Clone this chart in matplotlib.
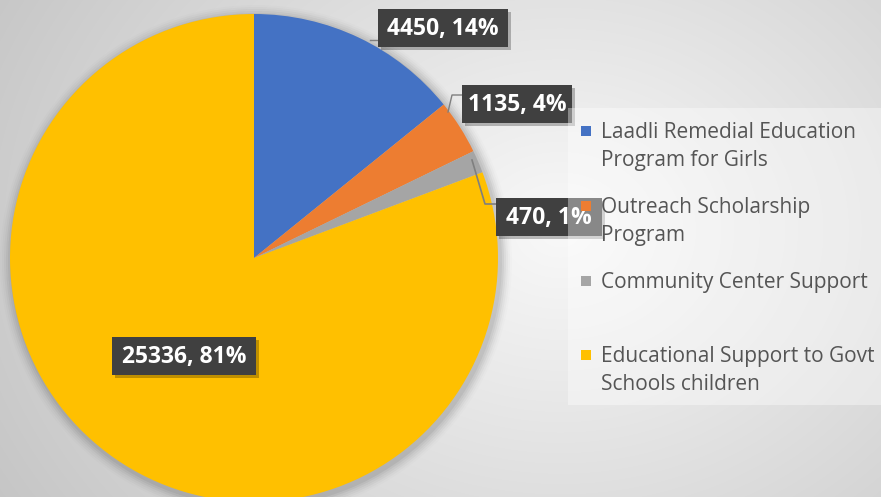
import numpy as np
import matplotlib
matplotlib.use("Agg")
import matplotlib.pyplot as plt
from matplotlib.patches import Rectangle

categories = ["Laadli Remedial Education\nProgram for Girls",
              "Outreach Scholarship\nProgram",
              "Community Center Support",
              "Educational Support to Govt\nSchools children"]
values = [4450, 1135, 470, 25336]
percent_labels = ["14%", "4%", "1%", "81%"]
colors = ["#4472c4", "#ed7d31", "#a5a5a5", "#ffc000"]

W, H = 881, 497
fig = plt.figure(figsize=(W / 100, H / 100), dpi=100)

# background radial gradient
bg = fig.add_axes([0, 0, 1, 1])
yy, xx = np.mgrid[0:H, 0:W]
d = np.sqrt(((xx - 560) / 520.0) ** 2 + ((yy - 230) / 420.0) ** 2)
shade = 0.975 - 0.16 * np.clip(d, 0, 1.3)
bg.imshow(np.dstack([shade] * 3), extent=[0, W, 0, H], origin="upper", aspect="auto")
bg.set_axis_off()

ax = fig.add_axes([0, 0, 1, 1])
ax.set_xlim(0, W)
ax.set_ylim(0, H)
ax.set_axis_off()

cx, cy, r = 254, H - 258, 244
# soft shadow
for i, a in enumerate(np.linspace(0.05, 0.01, 6)):
    ax.add_patch(plt.Circle((cx + 2, cy - 3), r + 2 + i * 2, color="#000000", alpha=a, lw=0, zorder=1))
ax.pie(values, colors=colors, startangle=90, counterclock=False, center=(cx, cy),
       radius=r, wedgeprops=dict(linewidth=0), frame=True)
ax.set_xlim(0, W)
ax.set_ylim(0, H)
ax.set_aspect("auto")
ax.set_axis_off()

font = "Open Sans"
label_pos = [(443, H - 28), (517, H - 104), (549, H - 217), (184, H - 356)]
box_w = [130, 110, 106, 144]
for v, p, (lx, ly), bw in zip(values, percent_labels, label_pos, box_w):
    ax.add_patch(Rectangle((lx - bw / 2 + 3, ly - 19 - 3), bw, 38, color="#000000", alpha=0.25, lw=0, zorder=4))
    ax.add_patch(Rectangle((lx - bw / 2, ly - 19), bw, 38, color="#404040", lw=0, zorder=5))
    ax.text(lx, ly - 1, f"{v}, {p}", ha="center", va="center", color="white", fontsize=16.5,
            fontweight="bold", family=font, zorder=6)

# leader lines
lc = "#7f7f7f"
ax.plot([370, 378], [H - 40, H - 40], color=lc, lw=1, zorder=3)
ax.plot([448, 452, 462], [H - 112, H - 95, H - 95], color=lc, lw=1, zorder=3)
ax.plot([472, 485, 496], [H - 160, H - 204, H - 204], color=lc, lw=1.2, zorder=3)

# legend (semi-transparent white panel drawn over labels)
ax.add_patch(Rectangle((568, H - 405), 320, 297, color="#ffffff", alpha=0.38, lw=0, zorder=6.5))
leg_y = [131, 206, 281, 355]
for cat, col, y in zip(categories, colors, leg_y):
    ax.add_patch(Rectangle((581, H - y - 5), 10, 10, color=col, lw=0, zorder=7))
    ax.text(601, H - y + 9, cat, ha="left", va="top", color="#555555", fontsize=15,
            family=font, linespacing=1.42, zorder=7)

fig.savefig("out.png", dpi=100)
